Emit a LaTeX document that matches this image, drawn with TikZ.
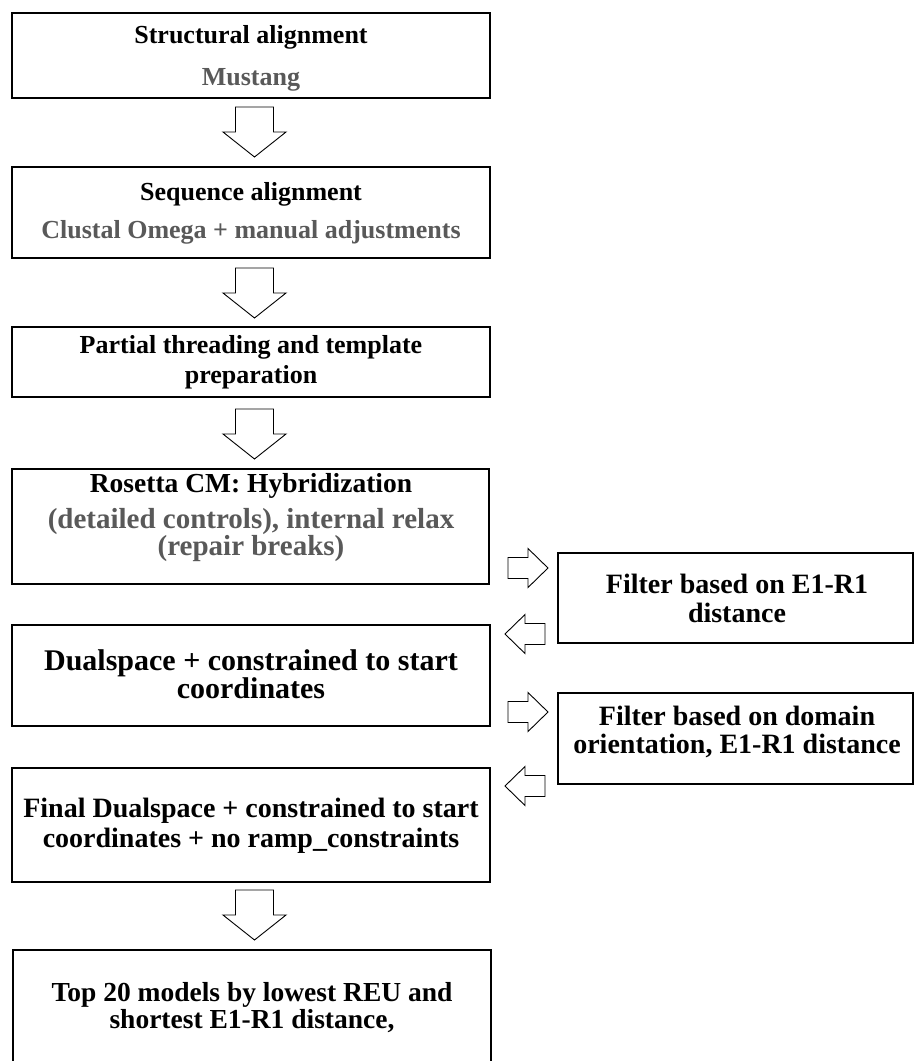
\documentclass[tikz,border=0pt]{standalone}
\usepackage{fontspec}
\setmainfont{Liberation Serif}
\usetikzlibrary{calc}
\definecolor{subgray}{RGB}{89,89,89}
\newcommand{\myfs}[1]{\fontsize{#1}{#1}\selectfont\bfseries}
\tikzset{
  box/.style={draw=black, line width=1.4pt, fill=white, rectangle, inner sep=0pt},
  txt/.style={anchor=base, inner sep=0pt, text=black},
  sub/.style={anchor=base, inner sep=0pt, text=subgray},
  arrowline/.style={draw=black, line width=0.9pt, fill=white, line join=miter},
  dnarrow/.pic={\path[arrowline] (-19,0) -- (19,0) -- (19,25) -- (31.5,25) -- (0,50)
      -- (-31.5,25) -- (-19,25) -- cycle;},
  rtarrow/.pic={\path[arrowline] (0,-10.5) -- (20,-10.5) -- (20,-19.5) -- (40,0)
      -- (20,19.5) -- (20,10.5) -- (0,10.5) -- cycle;},
  ltarrow/.pic={\path[arrowline] (0,-10.5) -- (-20,-10.5) -- (-20,-19.5) -- (-40,0)
      -- (-20,19.5) -- (-20,10.5) -- (0,10.5) -- cycle;}
}
\begin{document}
\begin{tikzpicture}[x=1pt, y=-1pt]
\useasboundingbox[fill=white] (0,0) rectangle (914,1061);

% main pipeline boxes
\node[box, minimum width=478pt, minimum height=85pt]  (b1) at (251,55.5) {};
\node[box, minimum width=478pt, minimum height=91pt]  (b2) at (251,212.5) {};
\node[box, minimum width=478pt, minimum height=70pt]  (b3) at (251,362) {};
\node[box, minimum width=477pt, minimum height=115pt] (b4) at (250.5,526.5) {};
\node[box, minimum width=478pt, minimum height=101pt] (b5) at (251,675.5) {};
\node[box, minimum width=478pt, minimum height=114pt] (b6) at (251,825) {};
\node[box, minimum width=478pt, minimum height=180pt] (b7) at (252,1040) {};

% filter boxes
\node[box, minimum width=355pt, minimum height=90pt] (f1) at (735.5,598) {};
\node[box, minimum width=355pt, minimum height=91pt] (f2) at (735.5,738.5) {};

% texts
\node[txt, font=\myfs{26}] (t11) at (251,43) {Structural alignment};
\node[sub, font=\myfs{26}] (t12) at (251,85) {Mustang};
\node[txt, font=\myfs{26}] (t21) at (251,200) {Sequence alignment};
\node[sub, font=\myfs{26}] (t22) at (251,238) {Clustal Omega + manual adjustments};
\node[txt, font=\myfs{26}] (t31) at (251,353) {Partial threading and template};
\node[txt, font=\myfs{26}] (t32) at (251,383) {preparation};
\node[txt, font=\myfs{27.5}] (t41) at (251,492) {Rosetta CM: Hybridization};
\node[sub, font=\myfs{29}] (t42) at (251,528) {(detailed controls), internal relax};
\node[sub, font=\myfs{29}] (t43) at (251,555) {(repair breaks)};
\node[txt, font=\myfs{30}] (t51) at (251,670) {Dualspace + constrained to start};
\node[txt, font=\myfs{30}] (t52) at (251,698) {coordinates};
\node[txt, font=\myfs{28}] (t61) at (251,817) {Final Dualspace + constrained to start};
\node[txt, font=\myfs{28}] (t62) at (251,847) {coordinates + no ramp\_constraints};
\node[txt, font=\myfs{27.5}] (t71) at (252,1001) {Top 20 models by lowest REU and};
\node[txt, font=\myfs{27.5}] (t72) at (252,1028) {shortest E1-R1 distance,};
\node[txt, font=\myfs{28}] (tf11) at (737,593) {Filter based on E1-R1};
\node[txt, font=\myfs{28}] (tf12) at (737,622) {distance};
\node[txt, font=\myfs{28}] (tf21) at (737,725) {Filter based on domain};
\node[txt, font=\myfs{28}] (tf22) at (737,753) {orientation, E1-R1 distance};

% block arrows between the stages
\pic at (254.5,107) {dnarrow};
\pic at (254.5,268) {dnarrow};
\pic at (254.5,409) {dnarrow};
\pic at (254.5,890) {dnarrow};

% block arrows to and from the filters
\pic at (508,568) {rtarrow};
\pic at (545,634) {ltarrow};
\pic at (508,712) {rtarrow};
\pic at (545,786) {ltarrow};
\end{tikzpicture}
\end{document}
